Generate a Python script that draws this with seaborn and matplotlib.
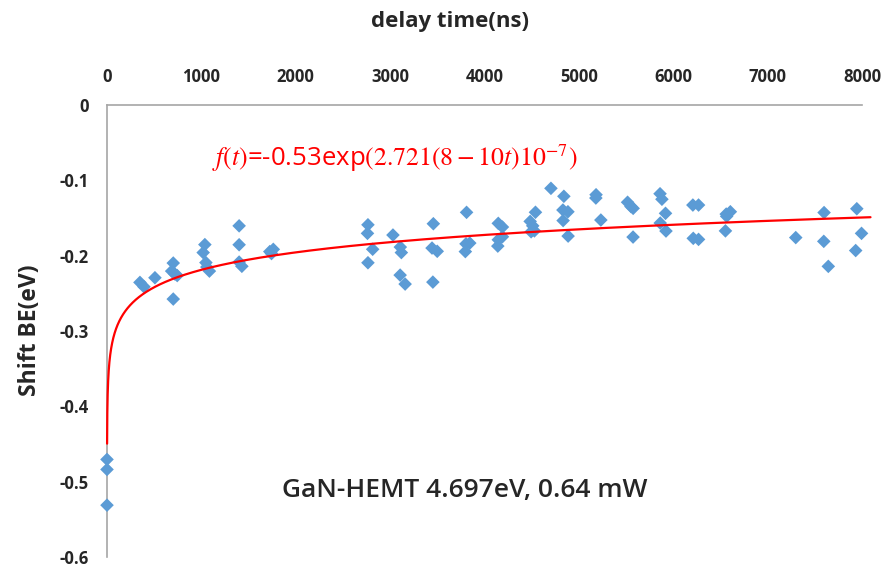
import numpy as np
import pandas as pd
import matplotlib
matplotlib.use("Agg")
import matplotlib.pyplot as plt
import seaborn as sns

# Measured binding-energy shift versus pump-probe delay
delay_ns = [
    0, 0, 0,
    349, 392, 508,
    702, 685, 720, 744, 702,
    1037, 1019, 1048, 1058, 1085,
    1400, 1400, 1400, 1429,
    1725, 1762, 1743,
    2765, 2760, 2815, 2765,
    3030, 3108, 3119, 3106, 3159,
    3458, 3444, 3499, 3453,
    3810, 3804, 3844, 3797,
    4146, 4190, 4190, 4146, 4141,
    4484, 4511, 4529, 4494, 4540,
    4704,
    4841, 4831, 4884, 4833, 4886,
    5182, 5180, 5233,
    5516, 5552, 5575, 5574,
    5860, 5880, 5918, 5862, 5923,
    6208, 6268, 6212, 6268,
    6561, 6605, 6566, 6553,
    7298,
    7598, 7595, 7643,
    7945, 7995, 7933,
]
shift_ev = [
    -0.4705, -0.4838, -0.5312,
    -0.2355, -0.2413, -0.2293,
    -0.2098, -0.2205, -0.2244, -0.2264, -0.2576,
    -0.1853, -0.1959, -0.2092, -0.2151, -0.2205,
    -0.1604, -0.1855, -0.2085, -0.2141,
    -0.1946, -0.1916, -0.1972,
    -0.1590, -0.1704, -0.1915, -0.2094,
    -0.1726, -0.1886, -0.1959, -0.2258, -0.2377,
    -0.1576, -0.1899, -0.1942, -0.2351,
    -0.1425, -0.1843, -0.1833, -0.1946,
    -0.1571, -0.1620, -0.1749, -0.1789, -0.1873,
    -0.1545, -0.1604, -0.1671, -0.1683, -0.1424,
    -0.1106,
    -0.1212, -0.1394, -0.1417, -0.1534, -0.1740,
    -0.1191, -0.1235, -0.1527,
    -0.1291, -0.1348, -0.1372, -0.1753,
    -0.1178, -0.1251, -0.1438, -0.1567, -0.1673,
    -0.1328, -0.1328, -0.1770, -0.1784,
    -0.1448, -0.1417, -0.1478, -0.1671,
    -0.1760,
    -0.1428, -0.1810, -0.2142,
    -0.1377, -0.1704, -0.1932,
]

# Logarithmic trend: shift = A * ln(t) + B
FIT_A = 0.0334
FIT_B = -0.4495
FIT_T_END = 8090

x_ticks = [0, 1000, 2000, 3000, 4000, 5000, 6000, 7000, 8000]
x_tick_labels = ["0", "1000", "2000", "3000", "4000", "5000", "6000", "7000", "8000"]
y_ticks = [0, -0.1, -0.2, -0.3, -0.4, -0.5, -0.6]
y_tick_labels = ["0", "-0.1", "-0.2", "-0.3", "-0.4", "-0.5", "-0.6"]

sns.set_theme(style="white")
plt.rcParams["font.family"] = ["Open Sans", "DejaVu Sans"]
plt.rcParams["mathtext.fontset"] = "stix"

W, H = 893, 570
fig = plt.figure(figsize=(W / 100, H / 100), dpi=100)
ax = fig.add_axes([107 / W, 1 - 557 / H, (862 - 107) / W, (557 - 105) / H])

df = pd.DataFrame({"delay": delay_ns, "shift": shift_ev})
sns.scatterplot(data=df, x="delay", y="shift", marker="D", s=48,
                color="#5B9BD5", edgecolor="none", linewidth=0,
                ax=ax, clip_on=False, zorder=3, legend=False)

t_fit = np.logspace(0, np.log10(FIT_T_END), 1500)
ax.plot(t_fit, FIT_A * np.log(t_fit) + FIT_B, color="#FF0000", lw=1.6,
        clip_on=False, zorder=4)

ax.set_xlim(0, 8000)
ax.set_ylim(-0.6, 0)
ax.xaxis.tick_top()
ax.set_xticks(x_ticks)
ax.set_xticklabels(x_tick_labels, fontsize=12, fontweight="bold")
ax.set_yticks(y_ticks)
ax.set_yticklabels(y_tick_labels, fontsize=12, fontweight="bold")
ax.tick_params(axis="x", length=0, pad=13.5)
ax.tick_params(axis="y", length=0, pad=13)
ax.set_xlabel("")
ax.set_ylabel("")

for side in ("right", "bottom"):
    ax.spines[side].set_visible(False)
for side in ("left", "top"):
    ax.spines[side].set_color("#A6A6A6")
    ax.spines[side].set_linewidth(1.2)

fig.text(450 / W, 1 - 21 / H, "delay time(ns)", ha="center", va="center",
         fontsize=16, fontweight="bold")
fig.text(30 / W, 1 - 330 / H, "Shift BE(eV)", ha="center", va="center",
         rotation=90, fontsize=16.5, fontweight="bold")
fig.text(465 / W, 1 - 490 / H, "GaN-HEMT 4.697eV, 0.64 mW", ha="center",
         va="center", fontsize=19, fontweight="semibold")
fig.text(212 / W, 1 - 158 / H, r"$f(t)$=-0.53exp$(2.721(8-10t)10^{-7})$",
         ha="left", va="center", fontsize=18.5, color="#FF0000")

fig.savefig("out.png", dpi=100)
